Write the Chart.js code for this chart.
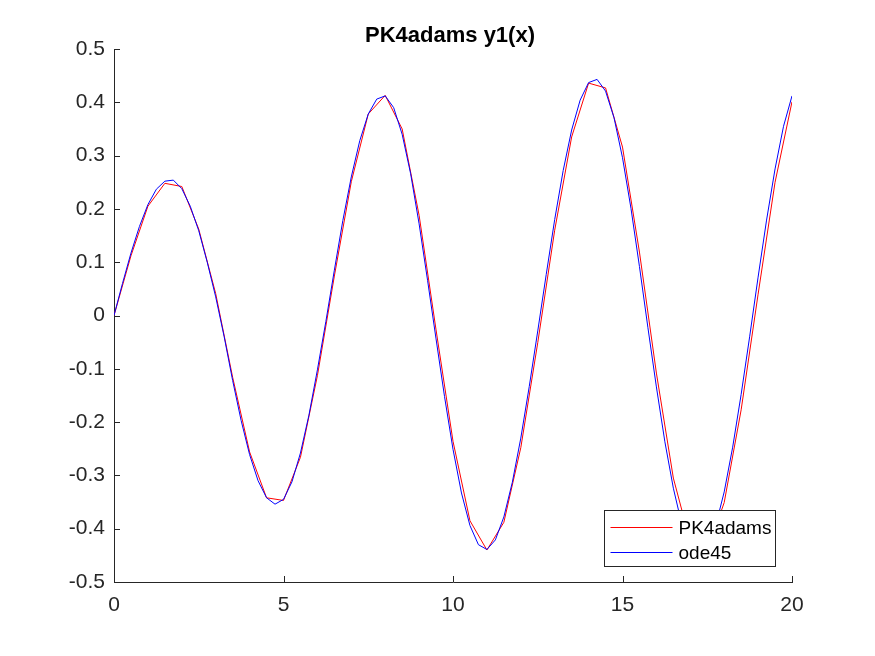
<!DOCTYPE html>
<html>
<head>
<meta charset="utf-8">
<title>PK4adams y1(x)</title>
<script src="https://cdn.jsdelivr.net/npm/chart.js@4.4.1/dist/chart.umd.min.js"></script>
<style>
  html, body { margin: 0; padding: 0; background: #fff; }
  canvas { display: block; }
</style>
</head>
<body>
<canvas id="y1Chart" width="875" height="656"></canvas>
<script>
// PK4adams solution, step h = 0.5
const adamsX = [0, 0.5, 1, 1.5, 2, 2.5, 3, 3.5, 4, 4.5, 5, 5.5, 6, 6.5, 7, 7.5, 8, 8.5, 9, 9.5,
    10, 10.5, 11, 11.5, 12, 12.5, 13, 13.5, 14, 14.5, 15, 15.5, 16, 16.5, 17, 17.5, 18, 18.5, 19, 19.5, 20];
const adamsY = [0, 0.112, 0.205, 0.248, 0.242, 0.162, 0.041, -0.116, -0.256, -0.342, -0.347, -0.266,
    -0.113, 0.074, 0.251, 0.378, 0.413, 0.350, 0.188, -0.027, -0.236, -0.385, -0.440, -0.388, -0.248,
    -0.051, 0.160, 0.335, 0.436, 0.427, 0.316, 0.119, -0.108, -0.305, -0.425, -0.441, -0.351, -0.177,
    0.040, 0.250, 0.401];

// ode45 reference solution
const odeX = [0, 0.25, 0.5, 0.75, 1, 1.25, 1.5, 1.75, 2, 2.25, 2.5, 2.75, 3, 3.25, 3.5, 3.75, 4, 4.25,
    4.5, 4.75, 5, 5.25, 5.5, 5.75, 6, 6.25, 6.5, 6.75, 7, 7.25, 7.5, 7.75, 8, 8.25, 8.5, 8.75, 9, 9.25,
    9.5, 9.75, 10, 10.25, 10.5, 10.75, 11, 11.25, 11.5, 11.75, 12, 12.25, 12.5, 12.75, 13, 13.25, 13.5,
    13.75, 14, 14.25, 14.5, 14.75, 15, 15.25, 15.5, 15.75, 16, 16.25, 16.5, 16.75, 17, 17.25, 17.5,
    17.75, 18, 18.25, 18.5, 18.75, 19, 19.25, 19.5, 19.75, 20];
const odeY = [0, 0.060, 0.117, 0.167, 0.208, 0.237, 0.252, 0.254, 0.238, 0.205, 0.159, 0.100, 0.035,
    -0.040, -0.122, -0.197, -0.261, -0.310, -0.342, -0.354, -0.345, -0.312, -0.258, -0.187, -0.102,
    -0.011, 0.085, 0.178, 0.260, 0.328, 0.378, 0.406, 0.412, 0.390, 0.340, 0.266, 0.172, 0.066,
    -0.044, -0.152, -0.251, -0.333, -0.394, -0.430, -0.439, -0.421, -0.378, -0.313, -0.230, -0.133,
    -0.029, 0.077, 0.180, 0.272, 0.348, 0.404, 0.437, 0.443, 0.421, 0.371, 0.296, 0.201, 0.092,
    -0.023, -0.134, -0.237, -0.324, -0.392, -0.434, -0.448, -0.435, -0.394, -0.331, -0.247, -0.148,
    -0.040, 0.072, 0.179, 0.275, 0.355, 0.412];

const xTicks = [0, 5, 10, 15, 20];
const yTicks = [-0.5, -0.4, -0.3, -0.2, -0.1, 0, 0.1, 0.2, 0.3, 0.4, 0.5];
const TITLE = 'PK4adams y1(x)';

const FONT = "'Liberation Sans', Arial, Helvetica, sans-serif";
const AXIS_COLOR = '#262626';

function toPoints(xs, ys) {
    return xs.map((x, i) => ({ x: x, y: ys[i] }));
}

// title centred over the axes (the built-in one centres on the whole canvas)
const axesTitle = {
    id: 'axesTitle',
    afterDraw(chart) {
        const { ctx, chartArea } = chart;
        ctx.save();
        ctx.font = 'bold 22px ' + FONT;
        ctx.fillStyle = '#000';
        ctx.textAlign = 'center';
        ctx.textBaseline = 'alphabetic';
        ctx.fillText(TITLE, (chartArea.left + chartArea.right) / 2 - 3, 42);
        ctx.restore();
    }
};

// matlab style ticks pointing into the axes
const innerTicks = {
    id: 'innerTicks',
    afterDraw(chart) {
        const { ctx, chartArea, scales } = chart;
        ctx.save();
        ctx.strokeStyle = AXIS_COLOR;
        ctx.lineWidth = 1;
        ctx.beginPath();
        scales.x.ticks.forEach(t => {
            const px = Math.round(scales.x.getPixelForValue(t.value)) + 0.5;
            ctx.moveTo(px, chartArea.bottom);
            ctx.lineTo(px, chartArea.bottom - 6);
        });
        scales.y.ticks.forEach(t => {
            const py = Math.round(scales.y.getPixelForValue(t.value)) + 0.5;
            ctx.moveTo(chartArea.left, py);
            ctx.lineTo(chartArea.left + 6, py);
        });
        ctx.stroke();
        ctx.restore();
    }
};

// boxed legend in the lower right corner of the axes
const boxLegend = {
    id: 'boxLegend',
    afterDraw(chart) {
        const { ctx, chartArea } = chart;
        const w = 171, h = 56;
        const left = Math.round(chartArea.right - 17 - w) + 0.5;
        const top = Math.round(chartArea.bottom - 16 - h) + 0.5;
        ctx.save();
        ctx.fillStyle = '#fff';
        ctx.fillRect(left, top, w, h);
        ctx.strokeStyle = AXIS_COLOR;
        ctx.lineWidth = 1;
        ctx.strokeRect(left, top, w, h);
        ctx.font = '19px ' + FONT;
        ctx.textBaseline = 'middle';
        chart.data.datasets.forEach((ds, i) => {
            const cy = Math.round(top + 16 + i * 25) + 0.5;
            ctx.strokeStyle = ds.borderColor;
            ctx.beginPath();
            ctx.moveTo(left + 6, cy);
            ctx.lineTo(left + 68, cy);
            ctx.stroke();
            ctx.fillStyle = '#000';
            ctx.fillText(ds.label, left + 74, cy + 1);
        });
        ctx.restore();
    }
};

const ctx = document.getElementById('y1Chart').getContext('2d');
new Chart(ctx, {
    type: 'line',
    data: {
        datasets: [{
            label: 'PK4adams',
            data: toPoints(adamsX, adamsY),
            borderColor: '#ff0000',
            borderWidth: 1,
            order: 1
        }, {
            label: 'ode45',
            data: toPoints(odeX, odeY),
            borderColor: '#0000ff',
            borderWidth: 1,
            order: 0
        }]
    },
    options: {
        responsive: false,
        devicePixelRatio: 1,
        animation: false,
        layout: { padding: { left: 0, right: 83, top: 49, bottom: 0 } },
        elements: {
            point: { radius: 0 },
            line: { tension: 0, fill: false }
        },
        plugins: {
            legend: { display: false },
            tooltip: { enabled: false },
            title: { display: false }
        },
        scales: {
            x: {
                type: 'linear',
                min: 0,
                max: 20,
                afterFit(scale) { scale.height = 74; },
                afterBuildTicks(scale) { scale.ticks = xTicks.map(v => ({ value: v })); },
                grid: { display: true, drawOnChartArea: false, drawTicks: false },
                border: { display: true, color: AXIS_COLOR, width: 1 },
                ticks: {
                    padding: 11,
                    color: AXIS_COLOR,
                    font: { family: FONT, size: 21 },
                    maxRotation: 0,
                    callback: v => String(v)
                }
            },
            y: {
                type: 'linear',
                min: -0.5,
                max: 0.5,
                afterFit(scale) { scale.width = 114; },
                afterBuildTicks(scale) { scale.ticks = yTicks.map(v => ({ value: v })); },
                grid: { display: true, drawOnChartArea: false, drawTicks: false },
                border: { display: true, color: AXIS_COLOR, width: 1 },
                ticks: {
                    padding: 9,
                    color: AXIS_COLOR,
                    font: { family: FONT, size: 21 },
                    callback: v => String(Number(v.toFixed(1)))
                }
            }
        }
    },
    plugins: [axesTitle, innerTicks, boxLegend]
});
</script>
</body>
</html>
